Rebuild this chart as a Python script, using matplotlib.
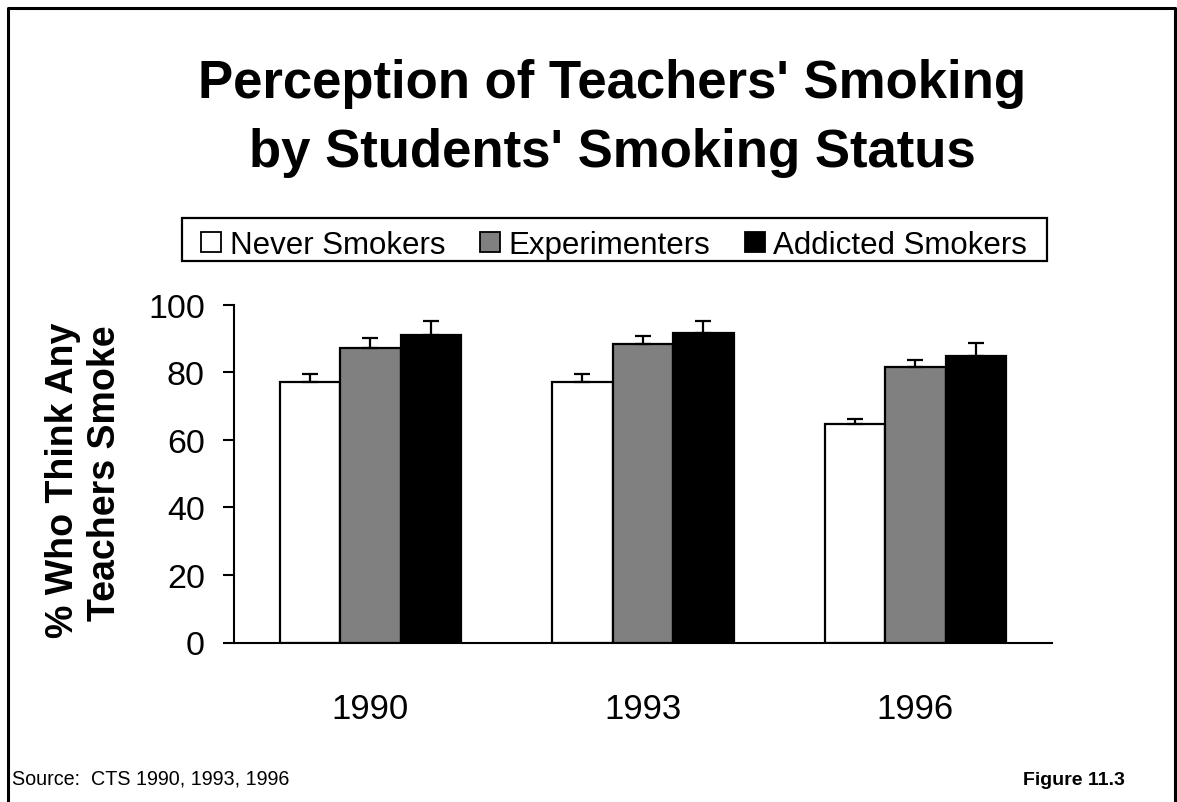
import matplotlib.pyplot as plt
from matplotlib.patches import Patch, Rectangle
from matplotlib.lines import Line2D
import numpy as np

plt.rcParams['font.family'] = ['Liberation Sans', 'DejaVu Sans']

years = ['1990', '1993', '1996']
groups = ['Never Smokers', 'Experimenters', 'Addicted Smokers']
never = [77.0, 77.2, 64.6]
experimenters = [87.3, 88.3, 81.5]
addicted = [91.0, 91.7, 84.9]
never_err = [2.4, 2.3, 1.5]
experimenters_err = [2.7, 2.3, 2.1]
addicted_err = [4.2, 3.4, 3.9]

colors = ['white', '#808080', 'black']

W, H = 1177, 803
fig = plt.figure(figsize=(W / 100, H / 100), dpi=100)
ax = fig.add_axes([234 / W, 1 - 643.5 / H, (1051.7 - 234) / W, (643.5 - 305.7) / H])

x = np.arange(len(years)) + 0.5
w = 0.222
series = [(never, never_err), (experimenters, experimenters_err), (addicted, addicted_err)]
for i, (vals, errs) in enumerate(series):
    xs = x + (i - 1) * w
    ax.bar(xs, vals, width=w, color=colors[i], edgecolor='black', linewidth=1.6, zorder=2)
    ax.errorbar(xs, vals, yerr=[np.zeros(len(errs)), errs], fmt='none',
                ecolor='black', elinewidth=1.6, capsize=5.5, capthick=1.6, zorder=3)

ax.set_xlim(0, 3)
ax.set_ylim(0, 100)
ax.set_yticks([0, 20, 40, 60, 80, 100])
ax.set_xticks(x)
ax.set_xticklabels(years)
ax.tick_params(axis='y', labelsize=24.5, length=8, width=1.5, direction='out', pad=13)
ax.tick_params(axis='x', labelsize=25, length=0, pad=36)
for s in ['top', 'right']:
    ax.spines[s].set_visible(False)
for s in ['left', 'bottom']:
    ax.spines[s].set_linewidth(1.5)

# y label, two lines
fig.text(63 / W, 1 - 480 / H, '% Who Think Any', rotation=90, fontsize=27,
         fontweight='bold', ha='center', va='center')
fig.text(105 / W, 1 - 473 / H, 'Teachers Smoke', rotation=90, fontsize=27,
         fontweight='bold', ha='center', va='center')

# title
fig.text(612 / W, 1 - 98 / H, "Perception of Teachers' Smoking", fontsize=38,
         fontweight='bold', ha='center', va='baseline')
fig.text(612 / W, 1 - 167 / H, "by Students' Smoking Status", fontsize=38,
         fontweight='bold', ha='center', va='baseline')

# legend, frame drawn separately
fig.add_artist(Rectangle((182 / W, 1 - 262 / H), (1047 - 182) / W, (262 - 219) / H,
                         transform=fig.transFigure, facecolor='white',
                         edgecolor='black', linewidth=1.6, zorder=1))
handles = [Patch(facecolor=c, edgecolor='black', linewidth=1.3) for c in colors]
leg = fig.legend(handles, groups, ncol=3, loc='center left',
                 bbox_to_anchor=(201.5 / W, 1 - 246 / H), fontsize=22.5,
                 frameon=False, borderpad=0, borderaxespad=0,
                 handlelength=0.64, handleheight=0.61, handletextpad=0.26,
                 columnspacing=1.12)
leg.set_zorder(2)

# footer
fig.text(12 / W, 1 - 785 / H, 'Source:  CTS 1990, 1993, 1996', fontsize=14.2,
         ha='left', va='baseline')
fig.text(1125 / W, 1 - 785 / H, 'Figure 11.3', fontsize=14, fontweight='bold',
         ha='right', va='baseline')

# page frame
fig.add_artist(Line2D([7.5 / W, 7.5 / W, 1175 / W, 1175 / W],
                      [0, 1 - 9 / H, 1 - 9 / H, 0],
                      transform=fig.transFigure, color='black', linewidth=2.2))

fig.savefig('out.png', dpi=100)
